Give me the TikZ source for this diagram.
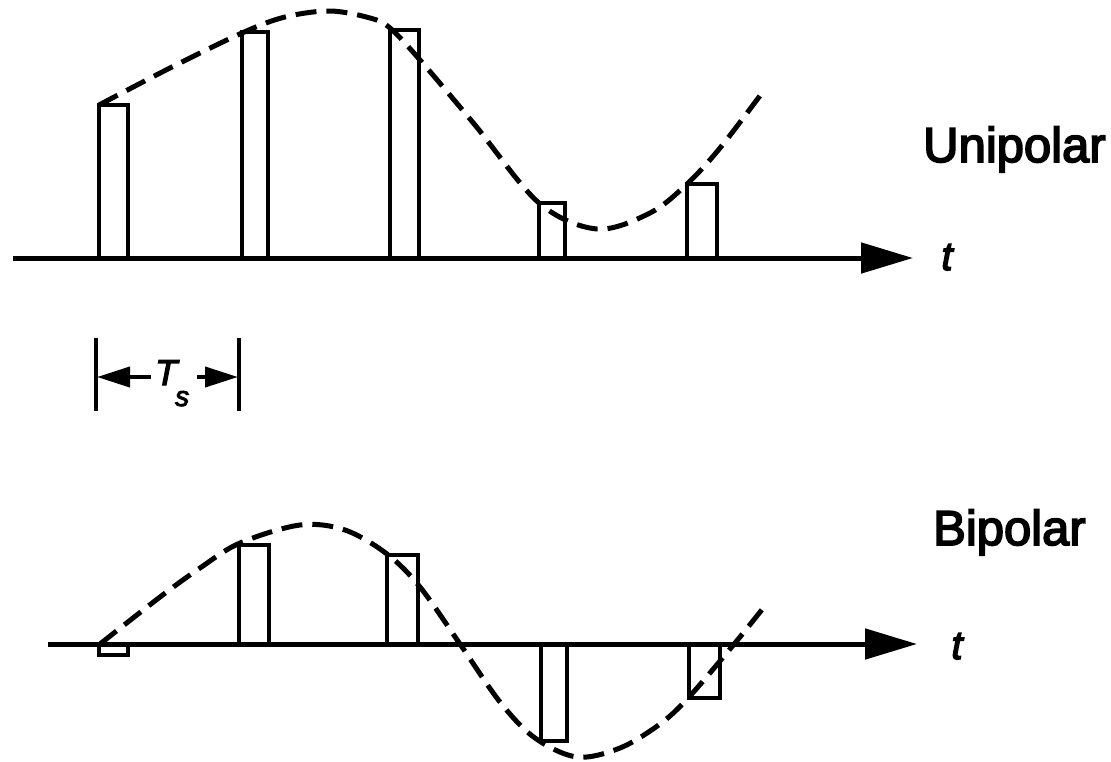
\documentclass[tikz,border=0pt]{standalone}
\usepackage{fontspec}
\usetikzlibrary{arrows.meta}
\newfontfamily\labfont{Liberation Sans}[FakeBold=3.5]
\newfontfamily\labitfont{Liberation Sans Italic}[FakeBold=3.5]
\tikzset{
  pulse/.style={line width=4pt, line join=miter},
  axisline/.style={line width=5pt, -{Triangle[length=52pt,width=30pt]}},
  curve/.style={line width=5pt, dash pattern=on 21pt off 10pt},
  lab/.style={font=\labfont\fontsize{49}{55}\selectfont, inner sep=0pt},
  tlab/.style={font=\labitfont\fontsize{40}{44}\selectfont, inner sep=0pt},
  bar/.style={line width=4pt},
  dimarrow/.style={line width=4pt, -{Triangle[length=33pt,width=20pt]}}
}
\begin{document}
\begin{tikzpicture}[x=1pt,y=-1pt]
\useasboundingbox (0,0) rectangle (1111,761);
% ---------- Unipolar ----------
\coordinate (ua0) at (13,258);
\coordinate (ua1) at (913,258);
\draw[pulse] (99,258) rectangle (128,105);
\draw[pulse] (242,258) rectangle (268,32);
\draw[pulse] (390,258) rectangle (419,30);
\draw[pulse] (539,258) rectangle (565,203);
\draw[pulse] (687,258) rectangle (717,184);
\draw[axisline] (ua0) -- (ua1);
\draw[curve] plot[smooth, tension=0.55] coordinates {(99,105) (170,68) (242,33) (285,17) (330,11) (370,18) (390,28) (420,60) (475,125) (539,203) (597,229) (650,213) (687,184) (720,148) (762,93)};
\node[tlab, anchor=base] (t1) at (947,270) {t};
\node[lab, anchor=base west] (uni) at (923,162) {Unipolar};
% ---------- Ts marker ----------
\coordinate (b1a) at (96,338);
\coordinate (b1b) at (96,411);
\coordinate (b2a) at (239,338);
\coordinate (b2b) at (239,411);
\draw[bar] (b1a) -- (b1b);
\draw[bar] (b2a) -- (b2b);
\coordinate (al) at (151,377);
\coordinate (alt) at (97,377);
\coordinate (ar) at (197,377);
\coordinate (art) at (238,377);
\draw[dimarrow] (al) -- (alt);
\draw[dimarrow] (ar) -- (art);
\node[font=\labitfont\fontsize{36}{40}\selectfont, inner sep=0pt, anchor=base west] (ts) at (155,385) {T\kern-2pt\raisebox{-21pt}{\fontsize{28}{30}\selectfont s}};
% ---------- Bipolar ----------
\coordinate (ba0) at (48,644);
\coordinate (ba1) at (917,644);
\draw[pulse] (99,644) rectangle (128,655);
\draw[pulse] (239,644) rectangle (269,545);
\draw[pulse] (387,644) rectangle (418,555);
\draw[pulse] (541,644) rectangle (567,741);
\draw[pulse] (689,644) rectangle (720,698);
\draw[axisline] (ba0) -- (ba1);
\draw[curve] plot[smooth, tension=0.55] coordinates {(100,644) (160,597) (200,568) (240,543) (300,525) (345,530) (387,554) (420,587) (460,644) (500,702) (535,738) (577,757) (620,748) (660,724) (689,697) (735,643) (768,602)};
\node[tlab, anchor=base] (t2) at (957,659) {t};
\node[lab, anchor=base west] (bip) at (933,545) {Bipolar};
\end{tikzpicture}
\end{document}
